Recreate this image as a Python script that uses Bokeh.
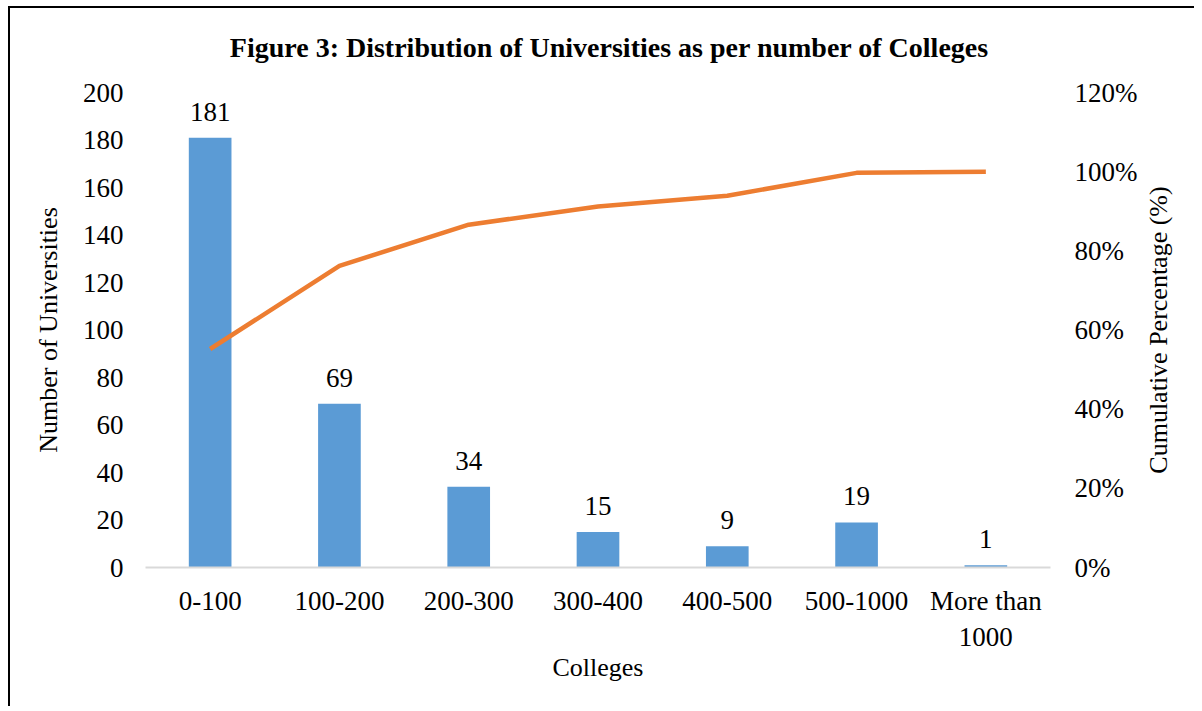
import math
from bokeh.plotting import figure
from bokeh.models import (ColumnDataSource, Range1d, LinearAxis, NumeralTickFormatter,
                          LabelSet, FixedTicker, Label)
from bokeh.embed import file_html
from bokeh.resources import INLINE

categories = ["0-100", "100-200", "200-300", "300-400", "400-500", "500-1000", "More than\n1000"]
universities = [181, 69, 34, 15, 9, 19, 1]
cumulative = [0.552, 0.762, 0.866, 0.912, 0.939, 0.997, 1.0]

FONT = "Liberation Serif"

src = ColumnDataSource(dict(cat=categories, n=universities, cum=cumulative,
                            lab=[str(v) for v in universities]))

p = figure(x_range=categories, y_range=Range1d(0, 200), width=1186, height=700,
           output_backend="svg", toolbar_location=None,
           min_border_left=135, min_border_right=146, min_border_top=84, min_border_bottom=141)
p.styles = {"border-left": "2px solid black", "border-top": "2px solid black",
            "margin-left": "8px", "margin-top": "6px"}
p.outline_line_color = None
p.xgrid.grid_line_color = None
p.ygrid.grid_line_color = None
p.background_fill_color = "white"
p.border_fill_color = "white"

main_title = Label(x=464, x_units="screen", y=45, y_units="screen",
                   text="Figure 3: Distribution of Universities as per number of Colleges",
                   text_align="center", text_baseline="middle", text_font=FONT,
                   text_font_size="28px", text_font_style="bold", text_color="black")
p.add_layout(main_title, "above")

p.vbar(x="cat", top="n", width=0.33, source=src, fill_color="#5B9BD5", line_color=None)

p.extra_y_ranges = {"pct": Range1d(0, 1.2)}
p.line(x="cat", y="cum", source=src, y_range_name="pct", line_color="#ED7D31", line_width=4.5)

labels = LabelSet(x="cat", y="n", text="lab", source=src, text_align="center",
                  text_baseline="bottom", y_offset=17, text_font=FONT,
                  text_font_size="27px", text_color="black")
p.add_layout(labels)

# left axis
ya = p.yaxis[0]
ya.ticker = FixedTicker(ticks=list(range(0, 201, 20)))
ya.axis_label = "Number of Universities"

# right axis
ra = LinearAxis(y_range_name="pct", ticker=FixedTicker(ticks=[0, 0.2, 0.4, 0.6, 0.8, 1.0, 1.2]),
                formatter=NumeralTickFormatter(format="0%"))
p.add_layout(ra, "right")

for ax in [ya, ra]:
    ax.axis_line_color = None
    ax.major_tick_line_color = None
    ax.minor_tick_line_color = None
    ax.major_label_text_font = FONT
    ax.major_label_text_font_size = "27px"
    ax.major_label_text_color = "black"
    ax.axis_label_text_font = FONT
    ax.axis_label_text_font_size = "26px"
    ax.axis_label_text_font_style = "normal"
    ax.axis_label_text_color = "black"
ya.major_label_standoff = 16
ra.major_label_standoff = 18
ya.axis_label_standoff = 17

right_title = Label(x=18, x_units="screen", y=100, y_units="data",
                    text="Cumulative Percentage (%)", angle=math.pi / 2,
                    text_align="center", text_baseline="middle", text_font=FONT,
                    text_font_size="26px", text_color="black")
p.add_layout(right_title, "right")

xa = p.xaxis[0]
xa.axis_label = "Colleges"
xa.axis_line_color = "#D9D9D9"
xa.axis_line_width = 2
xa.major_tick_line_color = None
xa.minor_tick_line_color = None
xa.major_label_text_font = FONT
xa.major_label_text_font_size = "27px"
xa.major_label_text_color = "black"
xa.major_label_standoff = 12
xa.axis_label_text_font = FONT
xa.axis_label_text_font_size = "26px"
xa.axis_label_text_font_style = "normal"
xa.axis_label_text_color = "black"
xa.axis_label_standoff = -2

open("out.html", "w").write(file_html(p, INLINE))
